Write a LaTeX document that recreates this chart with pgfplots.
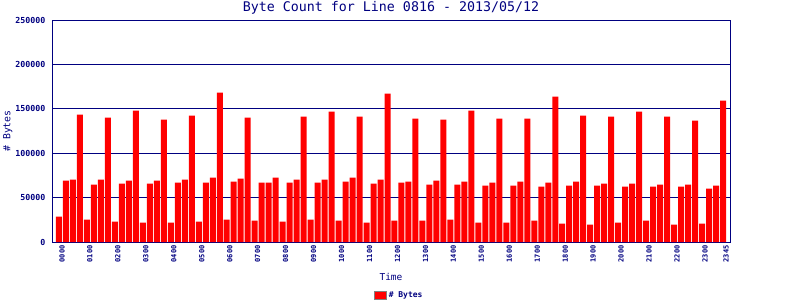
\documentclass[border=0pt]{standalone}
\usepackage{fontspec}
\setmainfont{DejaVu Sans Mono}
\usepackage{pgfplots}
\pgfplotsset{compat=1.18}
\usepackage{pgfplotstable}
\definecolor{navy}{RGB}{0,0,128}
\definecolor{barred}{RGB}{255,0,0}

\pgfplotstableread{
x y
0 28500
1 69100
2 70200
3 143400
4 25200
5 64600
6 70200
7 140000
8 22900
9 65700
10 69100
11 147900
12 21800
13 65700
14 69100
15 137800
16 21800
17 66800
18 70200
19 142300
20 22900
21 66800
22 72400
23 168200
24 25200
25 68000
26 71300
27 140000
28 24000
29 66800
30 66800
31 72400
32 22900
33 66800
34 70200
35 141100
36 25200
37 66800
38 70200
39 146800
40 24000
41 68000
42 72400
43 141100
44 21800
45 65700
46 70200
47 167000
48 24000
49 66800
50 68000
51 138900
52 24000
53 64600
54 69100
55 137800
56 25200
57 64600
58 68000
59 147900
60 21800
61 63400
62 66800
63 138900
64 21800
65 63400
66 68000
67 138900
68 24000
69 62300
70 66800
71 163700
72 20600
73 63400
74 68000
75 142300
76 19500
77 63400
78 65700
79 141100
80 21800
81 62300
82 65700
83 146800
84 24000
85 62300
86 64600
87 141100
88 19500
89 62300
90 64600
91 136600
92 20600
93 60100
94 63400
95 159200
}\datatable

\begin{document}
\begin{tikzpicture}
\useasboundingbox (0,0) rectangle (800pt,300pt);
\begin{axis}[
  at={(52pt,58pt)}, anchor=south west,
  scale only axis, width=678pt, height=222pt,
  xmin=-1, xmax=96, ymin=0, ymax=250000,
  ybar, bar width=6pt,
  axis line style={navy, line width=1pt},
  ymajorgrids, major grid style={navy, line width=1pt},
  major tick length=0pt,
  ytick={0,50000,100000,150000,200000,250000},
  scaled y ticks=false,
  yticklabel style={/pgf/number format/fixed, /pgf/number format/1000 sep={},
    /pgf/number format/assume math mode=true,
    font=\fontsize{8.3}{9}\selectfont\bfseries, text=navy, xshift=-3pt},
  xtick={0,4,8,12,16,20,24,28,32,36,40,44,48,52,56,60,64,68,72,76,80,84,88,92,95},
  xticklabels={0000,0100,0200,0300,0400,0500,0600,0700,0800,0900,1000,1100,1200,1300,1400,1500,1600,1700,1800,1900,2000,2100,2200,2300,2345},
  xticklabel style={rotate=90, anchor=east, font=\fontsize{7}{8}\selectfont\bfseries, text=navy, yshift=-3pt},
  every axis title shift=0pt,
  title={Byte Count for Line 0816 - 2013/05/12},
  title style={at={(rel axis cs:0.5,1.054)}, anchor=center, font=\fontsize{13.3}{15}\selectfont, text=navy},
  xlabel={Time},
  xlabel style={at={(rel axis cs:0.5,-0.158)}, anchor=center, font=\fontsize{9.5}{11}\selectfont, text=navy},
  ylabel={\# Bytes},
  ylabel style={at={(rel axis cs:-0.065,0.5)}, anchor=center, rotate=0, font=\fontsize{9.8}{11}\selectfont, text=navy},
  legend style={at={(rel axis cs:0.512,-0.239)}, anchor=center, draw=none, fill=none,
    font=\fontsize{8}{9}\selectfont\bfseries, text=navy, inner sep=0pt},
  legend image code/.code={\draw[fill=barred, draw=gray, line width=1pt] (0pt,-4pt) rectangle (12pt,4pt);},
  clip=false,
]
\addplot[fill=barred, draw=none, bar shift=0pt] table[x=x, y=y] {\datatable};
\addlegendentry{\# Bytes}
\end{axis}
\end{tikzpicture}
\end{document}
